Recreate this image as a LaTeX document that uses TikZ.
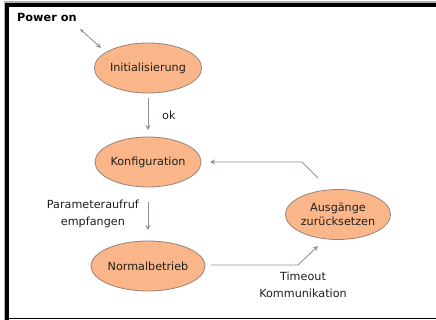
\documentclass[tikz,border=0pt]{standalone}
\usepackage{fontspec}
\setmainfont{DejaVu Sans}
\usetikzlibrary{arrows.meta,shapes.geometric}
\definecolor{statefill}{RGB}{250,182,136}
\definecolor{stateline}{RGB}{150,132,122}
\definecolor{wire}{RGB}{160,146,138}
\definecolor{txt}{RGB}{30,30,30}
\tikzset{
  state/.style={ellipse, draw=stateline, line width=0.8pt, fill=statefill,
    minimum width=102pt, minimum height=50pt, inner sep=0pt,
    font=\fontsize{11.2}{14}\selectfont, text=txt, align=center},
  wirearrow/.style={draw=wire, line width=0.9pt, -{Stealth[length=5pt,width=5pt]}},
  lbl/.style={font=\fontsize{11.2}{17}\selectfont, text=txt, align=center, inner sep=0pt}
}
\begin{document}
\begin{tikzpicture}[x=1pt,y=-1pt]
  \useasboundingbox (0,0) rectangle (436,320);
  \fill[white] (0,0) rectangle (436,320);
  % frame
  \fill[gray!60] (4,1.5) rectangle (436,3);
  \fill[black] (5,3) rectangle (436,7);
  \fill[gray!60] (4,3) rectangle (5,319.5);
  \fill[black] (5,3) rectangle (9,319.5);
  \fill[black] (5,317.8) rectangle (436,319.3);

  \node[anchor=west, inner sep=0pt, font=\bfseries\fontsize{11.3}{12}\selectfont] (pwr) at (17,17) {Power on};

  \node[state] (init) at (148,68) {Initialisierung};
  \node[state] (konf) at (148,162) {Konfiguration};
  \node[state] (norm) at (148,266) {Normalbetrieb};
  \node[state] (ausg) at (338,214.5) {Ausgänge\\zurücksetzen};

  \coordinate (p0) at (80,29);
  \coordinate (p1) at (101,48);
  \draw[draw=wire, line width=0.9pt, {Stealth[length=4pt,width=3.5pt]}-{Stealth[length=5pt,width=5pt]}] (p0) -- (p1);

  \coordinate (a0) at (148,98);
  \coordinate (a1) at (148,130);
  \draw[wirearrow] (a0) -- (a1);
  \node[lbl, anchor=west] (ok) at (162,115) {ok};

  \coordinate (b0) at (148,202);
  \coordinate (b1) at (148,230);
  \draw[wirearrow] (b0) -- (b1);
  \node[lbl, anchor=east] (param) at (139,213.5) {Parameteraufruf\\empfangen};

  \coordinate (c0) at (211,265);
  \coordinate (c1) at (298,265);
  \coordinate (c2) at (318,246);
  \draw[wirearrow] (c0) -- (c1) -- (c2);
  \node[lbl] (tmo) at (303,284.5) {Timeout\\Kommunikation};

  \coordinate (d0) at (318,178);
  \coordinate (d1) at (302,162);
  \coordinate (d2) at (210,162);
  \draw[wirearrow] (d0) -- (d1) -- (d2);
\end{tikzpicture}
\end{document}
